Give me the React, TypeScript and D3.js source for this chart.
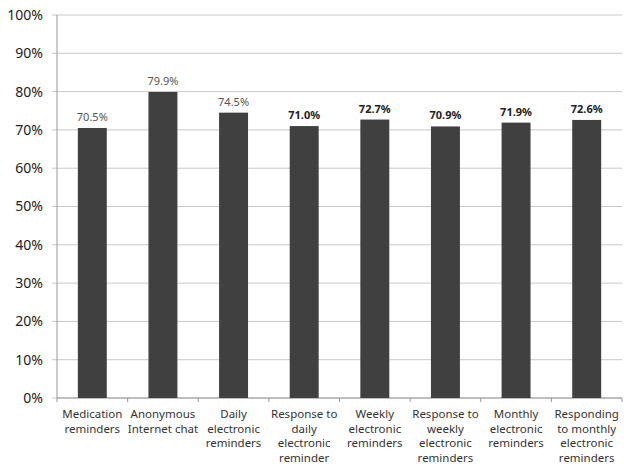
import * as d3 from "d3";
import { useEffect, useRef } from "react";

const categories = [
  "Medication reminders",
  "Anonymous Internet chat",
  "Daily electronic reminders",
  "Response to daily electronic reminder",
  "Weekly electronic reminders",
  "Response to weekly electronic reminders",
  "Monthly electronic reminders",
  "Responding to monthly electronic reminders",
];
// label lines as they wrap in the picture
const categoryLines = [
  ["Medication", "reminders"],
  ["Anonymous", "Internet chat"],
  ["Daily", "electronic", "reminders"],
  ["Response to", "daily", "electronic", "reminder"],
  ["Weekly", "electronic", "reminders"],
  ["Response to", "weekly", "electronic", "reminders"],
  ["Monthly", "electronic", "reminders"],
  ["Responding", "to monthly", "electronic", "reminders"],
];
const values = [70.5, 79.9, 74.5, 71.0, 72.7, 70.9, 71.9, 72.6];
const yTicks = [0, 10, 20, 30, 40, 50, 60, 70, 80, 90, 100];

export default function App() {
  const ref = useRef<SVGSVGElement>(null);

  useEffect(() => {
    const width = 631;
    const height = 473;
    const margin = { top: 15, right: 9, bottom: 75, left: 57 };
    const font = "'Noto Sans', sans-serif";

    const svg = d3.select(ref.current).attr("width", width).attr("height", height);
    svg.selectAll("*").remove();

    const x = d3.scaleBand()
      .domain(categories)
      .range([margin.left, width - margin.right])
      .paddingInner(0.59)
      .paddingOuter(0.295);

    const y = d3.scaleLinear()
      .domain([0, 100])
      .range([height - margin.bottom, margin.top]);

    // gridlines
    svg.append("g")
      .selectAll("line")
      .data(yTicks)
      .join("line")
      .attr("x1", margin.left - 5)
      .attr("x2", width - margin.right)
      .attr("y1", d => y(d))
      .attr("y2", d => y(d))
      .attr("stroke", "#c8c8c8")
      .attr("stroke-width", 1);

    // y tick labels
    svg.append("g")
      .selectAll("text")
      .data(yTicks)
      .join("text")
      .attr("x", 43)
      .attr("y", d => y(d))
      .attr("dy", "0.35em")
      .attr("text-anchor", "end")
      .attr("font-family", font)
      .attr("font-size", 14)
      .attr("fill", "#222")
      .text(d => d + "%");

    // y axis line
    svg.append("line")
      .attr("x1", margin.left)
      .attr("x2", margin.left)
      .attr("y1", y(100))
      .attr("y2", y(0))
      .attr("stroke", "#999");

    // x axis line + ticks at band edges
    const x0 = margin.left;
    const step = x.step();
    svg.append("line")
      .attr("x1", x0)
      .attr("x2", width - margin.right)
      .attr("y1", y(0))
      .attr("y2", y(0))
      .attr("stroke", "#999");
    svg.append("g")
      .selectAll("line")
      .data(d3.range(categories.length + 1))
      .join("line")
      .attr("x1", i => x0 + i * step)
      .attr("x2", i => x0 + i * step)
      .attr("y1", y(0))
      .attr("y2", y(0) + 4)
      .attr("stroke", "#999");

    // bars
    svg.append("g")
      .selectAll("rect")
      .data(categories)
      .join("rect")
      .attr("x", d => x(d)!)
      .attr("y", (d, i) => y(values[i]))
      .attr("width", x.bandwidth())
      .attr("height", (d, i) => y(0) - y(values[i]))
      .attr("fill", "#404040");

    // value labels
    svg.append("g")
      .selectAll("text")
      .data(categories)
      .join("text")
      .attr("x", d => x(d)! + x.bandwidth() / 2)
      .attr("y", (d, i) => y(values[i]) - 7)
      .attr("text-anchor", "middle")
      .attr("font-family", font)
      .attr("font-size", 11)
      .attr("font-weight", (d, i) => (i < 3 ? "normal" : "bold"))
      .attr("fill", (d, i) => (i < 3 ? "#555" : "#222"))
      .text((d, i) => values[i].toFixed(1) + "%");

    // category labels
    const cat = svg.append("g")
      .selectAll("text")
      .data(categories)
      .join("text")
      .attr("x", d => x(d)! + x.bandwidth() / 2)
      .attr("y", y(0) + 20)
      .attr("text-anchor", "middle")
      .attr("font-family", font)
      .attr("font-size", 11.5)
      .attr("fill", "#333");
    cat.selectAll("tspan")
      .data((d, i) => categoryLines[i])
      .join("tspan")
      .attr("x", function () {
        return (this.parentNode as SVGTextElement).getAttribute("x");
      })
      .attr("dy", (d, j) => (j === 0 ? 0 : 14.5))
      .text(d => d);
  }, []);

  return (
    <svg ref={ref} style={{ position: "absolute", left: 0, top: 0, background: "#fff" }}></svg>
  );
}
